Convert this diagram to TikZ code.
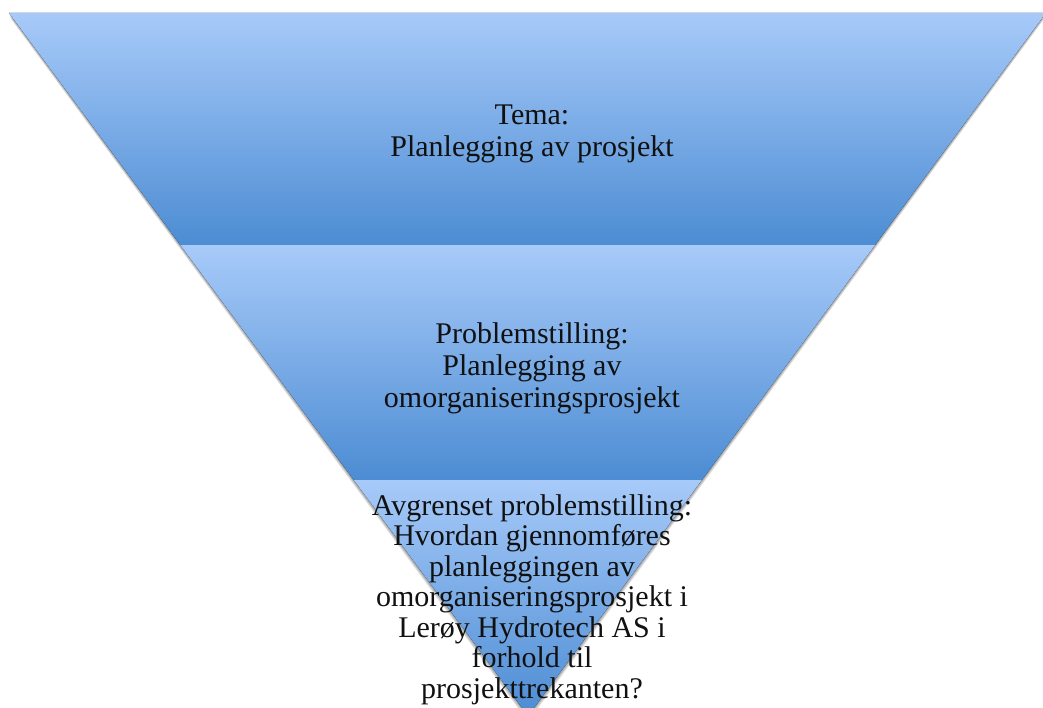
\documentclass[tikz,border=0pt]{standalone}
\usepackage{fontspec}
\setmainfont{Liberation Serif}
\definecolor{bandtop}{HTML}{A7CAF9}
\definecolor{bandbot}{HTML}{4C8CD3}
\definecolor{txt}{HTML}{111111}
\tikzset{
  band/.style={top color=bandtop,bottom color=bandbot,draw=none},
  lbl/.style={align=center,text=txt,inner sep=0pt,font=\fontsize{30}{32}\selectfont},
  lblb/.style={align=center,text=txt,inner sep=0pt,font=\fontsize{30}{30.5}\selectfont}
}
\begin{document}
\begin{tikzpicture}[x=1pt,y=-1pt]
\useasboundingbox (0,0) rectangle (1043,708);
\begin{scope}
\clip (0,0) rectangle (1043,708);
% soft shadow
\foreach \d in {1,2,3,4,5,6}{
  \fill[black,opacity=0.07] (9+0.3*\d,13+\d) -- (1046-0.3*\d,13+\d) -- (528,716+\d) -- cycle;
}
\fill[black!15] (9,12) -- (1046,12) -- (1046,13) -- (9,13) -- cycle;
\begin{scope}
\clip (9,13) -- (1046,13) -- (528,716) -- cycle;
\fill[band] (0,13) rectangle (1043,246);
\fill[band] (0,246) rectangle (1043,480);
\fill[band] (0,480) rectangle (1043,716);
\end{scope}
\end{scope}
\node[lbl] (t1) at (532,134.3) {Tema:\\Planlegging av prosjekt};
\node[lbl] (t2) at (532,368) {Problemstilling:\\Planlegging av\\omorganiseringsprosjekt};
\node[lblb] (t3) at (532,599.5) {Avgrenset problemstilling:\\Hvordan gjennomføres\\planleggingen av\\omorganiseringsprosjekt i\\Lerøy Hydrotech AS i\\forhold til\\prosjekttrekanten?};
\end{tikzpicture}
\end{document}
